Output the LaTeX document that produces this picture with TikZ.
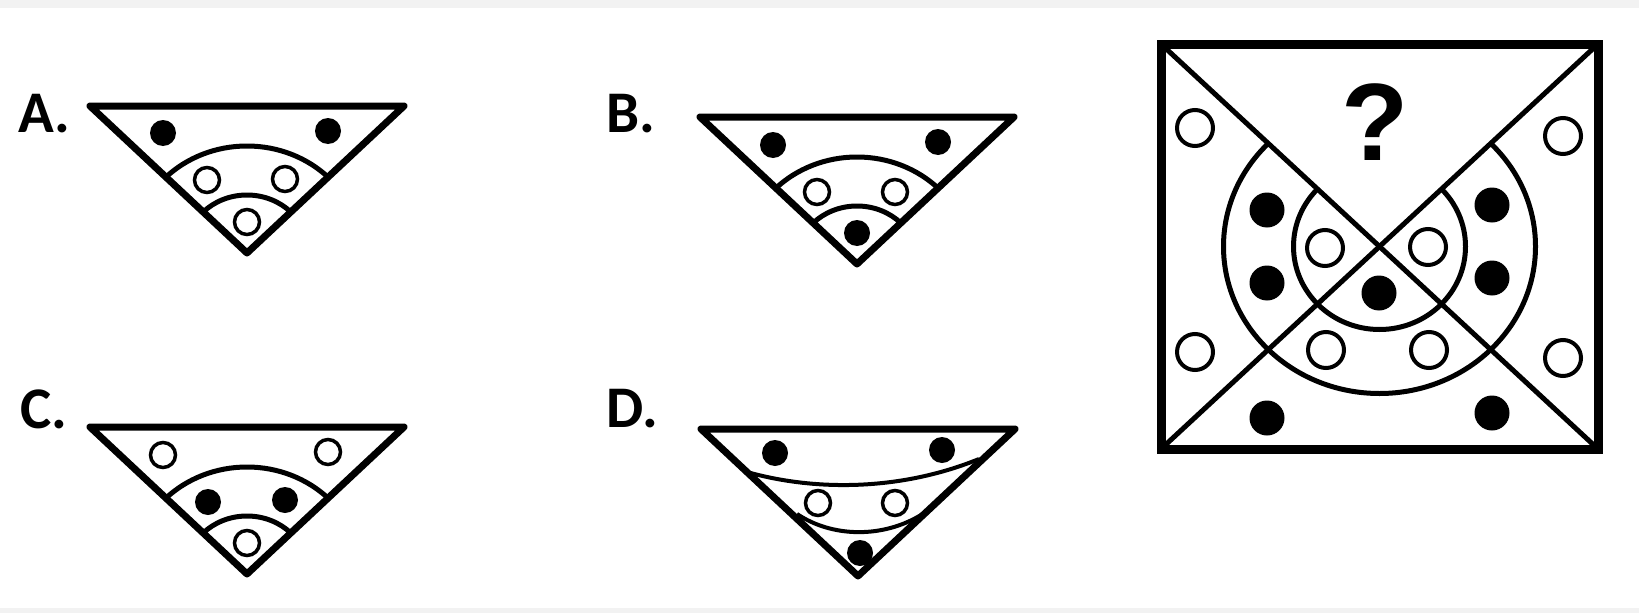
\documentclass[tikz,border=0pt]{standalone}
\usepackage{fontspec}
\newfontfamily\labfont{Carlito}
\newfontfamily\qfont{Liberation Sans}
\definecolor{band}{RGB}{242,242,242}
\begin{document}
\begin{tikzpicture}[x=1pt,y=-1pt,
  triline/.style={line width=7pt,line join=round},
  arcline/.style={line width=5pt},
  thinarc/.style={line width=4pt},
  sqborder/.style={line width=9pt,line join=miter},
  diag/.style={line width=5pt},
  labtext/.style={font=\labfont\bfseries\fontsize{59}{59}\selectfont,inner sep=0pt,anchor=base west},
  qtext/.style={font=\qfont\bfseries\fontsize{110}{110}\selectfont,inner sep=0pt,anchor=base}]
\useasboundingbox (0,0) rectangle (1639,613);
\fill[band] (0,0) rectangle (1639,8);
\fill[band] (0,608) rectangle (1639,613);

% small-circle helpers
\newcommand\tdot[1]{\fill #1 circle[radius=13pt];}
\newcommand\tring[1]{\draw[line width=3.5pt] #1 circle[radius=12.5pt];}
\newcommand\sdot[1]{\fill #1 circle[radius=17.5pt];}
\newcommand\sring[1]{\draw[line width=4pt] #1 circle[radius=18pt];}

% ---------- Option A ----------
\begin{scope}[shift={(247,253)}]
  \begin{scope}
    \clip (-157,-147) -- (157,-147) -- (0,0) -- cycle;
    \draw[arcline] (0,0) ellipse [x radius=115pt, y radius=107pt];
    \draw[arcline] (0,0) ellipse [x radius=62pt, y radius=58pt];
  \end{scope}
  \draw[triline] (-157,-147) -- (157,-147) -- (0,0) -- cycle;
  \tdot{(-84,-120)} \tdot{(81,-122)}
  \tring{(-40,-73)} \tring{(38,-74)}
  \tring{(0,-31)}
\end{scope}
\node[labtext] (labA) at (18,132) {A.};

% ---------- Option B ----------
\begin{scope}[shift={(857,264)}]
  \begin{scope}
    \clip (-157,-147) -- (157,-147) -- (0,0) -- cycle;
    \draw[arcline] (0,0) ellipse [x radius=115pt, y radius=107pt];
    \draw[arcline] (0,0) ellipse [x radius=62pt, y radius=58pt];
  \end{scope}
  \draw[triline] (-157,-147) -- (157,-147) -- (0,0) -- cycle;
  \tdot{(-84,-119)} \tdot{(81,-122)}
  \tring{(-40,-72)} \tring{(38,-72)}
  \tdot{(0,-31)}
\end{scope}
\node[labtext] (labB) at (606,132) {B.};

% ---------- Option C ----------
\begin{scope}[shift={(247,574)}]
  \begin{scope}
    \clip (-157,-147) -- (157,-147) -- (0,0) -- cycle;
    \draw[arcline] (0,0) ellipse [x radius=115pt, y radius=107pt];
    \draw[arcline] (0,0) ellipse [x radius=62pt, y radius=58pt];
  \end{scope}
  \draw[triline] (-157,-147) -- (157,-147) -- (0,0) -- cycle;
  \tring{(-84,-119)} \tring{(81,-122)}
  \tdot{(-39,-72)} \tdot{(38,-74)}
  \tring{(0,-31)}
\end{scope}
\node[labtext] (labC) at (20,428) {C.};

% ---------- Option D ----------
\begin{scope}[shift={(858,576)}]
  \draw[thinarc] (-111,-104) .. controls (-40,-84) and (45,-86) .. (121,-117);
  \draw[thinarc] (-61,-62) .. controls (-25,-38) and (25,-38) .. (63,-61);
  \draw[triline] (-157,-147) -- (157,-147) -- (0,0) -- cycle;
  \tdot{(-83,-123)} \tdot{(84,-126)}
  \tring{(-40,-73)} \tring{(37,-73)}
  \tdot{(2,-23)}
\end{scope}
\node[labtext] (labD) at (606,427) {D.};

% ---------- Square ----------
\begin{scope}
  \clip (1161,44) -- (1379.5,246.5) -- (1598,44) -- (1598,449) -- (1161,449) -- cycle;
  \draw[arcline] (1379.5,246.5) ellipse [x radius=156pt, y radius=147pt];
  \draw[arcline] (1379.5,246.5) ellipse [x radius=86pt, y radius=83pt];
\end{scope}
\draw[diag] (1161,44) -- (1598,449);
\draw[diag] (1598,44) -- (1161,449);
\draw[sqborder] (1161,44) rectangle (1598,449);
\node[qtext] (qm) at (1375,160) {?};

\sring{(1195,128)} \sring{(1563,136)}
\sring{(1195,352)} \sring{(1563,358)}
\sdot{(1267,210)} \sdot{(1267,283)}
\sdot{(1492,205)} \sdot{(1492,278)}
\sring{(1325,248)} \sring{(1428,247)}
\sdot{(1379,293)}
\sring{(1326,350)} \sring{(1429,350)}
\sdot{(1267,418)} \sdot{(1492,413)}
\end{tikzpicture}
\end{document}
